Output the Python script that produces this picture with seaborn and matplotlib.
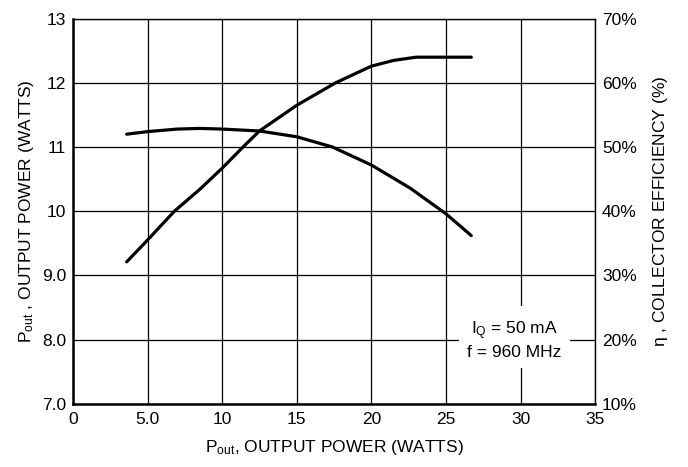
import numpy as np
import pandas as pd
import matplotlib
matplotlib.use("Agg")
import matplotlib.pyplot as plt
import seaborn as sns

# values
pout_x = [3.6, 5.0, 6.8, 8.5, 10.0, 11.4, 12.5, 15.0, 17.6, 20.0, 21.5, 23.0, 26.7]
pout_y = [9.21, 9.55, 10.0, 10.34, 10.67, 11.0, 11.25, 11.65, 12.0, 12.26, 12.35, 12.40, 12.40]

eff_x = [3.6, 5.0, 7.0, 8.5, 10.0, 12.5, 15.0, 17.4, 20.0, 22.6, 25.0, 26.7]
eff_y = [52.0, 52.4, 52.8, 52.9, 52.8, 52.5, 51.6, 50.0, 47.2, 43.6, 39.6, 36.2]

x_ticks = [0, 5, 10, 15, 20, 25, 30, 35]
x_labels = ["0", "5.0", "10", "15", "20", "25", "30", "35"]
left_ticks = [7, 8, 9, 10, 11, 12, 13]
left_labels = ["7.0", "8.0", "9.0", "10", "11", "12", "13"]
right_ticks = [10, 20, 30, 40, 50, 60, 70]
right_labels = ["10%", "20%", "30%", "40%", "50%", "60%", "70%"]

sns.set_style("white")
plt.rcParams['font.family'] = ['Liberation Sans', 'DejaVu Sans']
plt.rcParams['mathtext.default'] = 'regular'
plt.rcParams['text.color'] = 'black'
plt.rcParams['axes.labelcolor'] = 'black'
plt.rcParams['xtick.color'] = 'black'
plt.rcParams['ytick.color'] = 'black'

df_pout = pd.DataFrame({"x": pout_x, "y": pout_y})
df_eff = pd.DataFrame({"x": eff_x, "y": eff_y})

fig = plt.figure(figsize=(6.88, 4.67), dpi=100)
ax = fig.add_axes([0.106, 0.1355, 0.759, 0.8245])
ax2 = ax.twinx()

sns.lineplot(data=df_pout, x="x", y="y", ax=ax, color="black", lw=2.3)
sns.lineplot(data=df_eff, x="x", y="y", ax=ax2, color="black", lw=2.3)

ax.set_xlim(0, 35)
ax.set_ylim(7, 13)
ax2.set_ylim(10, 70)

ax.set_xticks(x_ticks)
ax.set_xticklabels(x_labels)
ax.set_yticks(left_ticks)
ax.set_yticklabels(left_labels)
ax2.set_yticks(right_ticks)
ax2.set_yticklabels(right_labels)

ax.grid(True, color="black", lw=0.9)
ax.tick_params(axis="y", length=0, labelsize=12.5, pad=5)
ax.tick_params(axis="x", length=0, labelsize=12.5, pad=6)
ax2.tick_params(axis="y", length=0, labelsize=12.5, pad=5)

for s in ax.spines.values():
    s.set_color("black")
    s.set_linewidth(1.0)
ax.spines["left"].set_linewidth(1.8)
ax.spines["bottom"].set_linewidth(1.8)
for s in ax2.spines.values():
    s.set_visible(False)

ax.set_xlabel(r"P$_{out}$, OUTPUT POWER (WATTS)", fontsize=12.5, labelpad=8)
ax.set_ylabel(r"P$_{out}$ , OUTPUT POWER (WATTS)", fontsize=12.5, labelpad=4)
ax2.set_ylabel(r"$\eta$ , COLLECTOR EFFICIENCY (%)", fontsize=12.5, labelpad=10)

ax.text(29.6, 8.0, "I$_Q$ = 50 mA\nf = 960 MHz", ha="center", va="center",
        fontsize=12.5, linespacing=1.3, zorder=5,
        bbox=dict(facecolor="white", edgecolor="none", pad=6))

fig.savefig("out.png", dpi=100)
